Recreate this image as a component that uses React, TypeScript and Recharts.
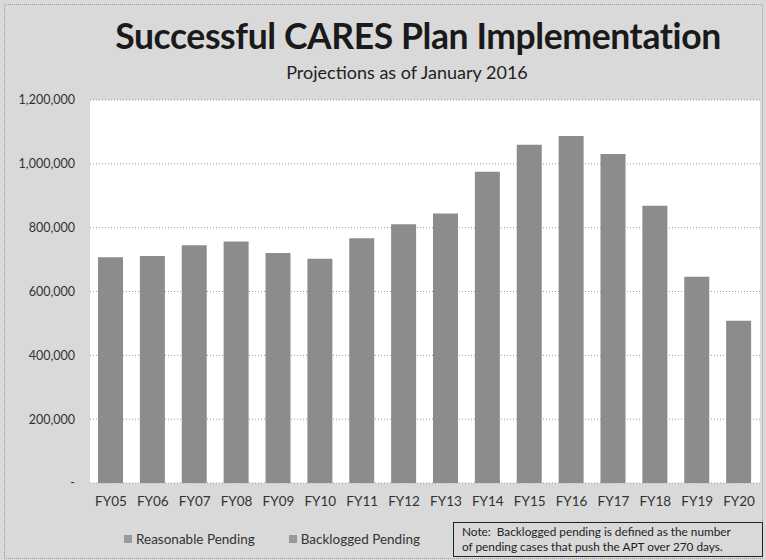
import React from "react";
import { BarChart, Bar, XAxis, YAxis, CartesianGrid, Legend } from "recharts";

const categories = ["FY05","FY06","FY07","FY08","FY09","FY10","FY11","FY12","FY13","FY14","FY15","FY16","FY17","FY18","FY19","FY20"];
const reasonablePending = [707000,711000,745000,757000,721000,703000,767000,811000,844000,975000,1060000,1087000,1031000,869000,646000,508000];
const backloggedPending = [0,0,0,0,0,0,0,0,0,0,0,0,0,0,0,0];
const yTicks = [0,200000,400000,600000,800000,1000000,1200000];
const legendOrder = ["Reasonable Pending", "Backlogged Pending"];

const data = categories.map((c, i) => ({ name: c, reasonable: reasonablePending[i], backlogged: backloggedPending[i] }));

const FONT = "Lato, 'Open Sans', sans-serif";

const fmt = (v: number) => (v === 0 ? "-" : v.toLocaleString("en-US"));

const renderLegend = (props: any) => {
  const payload = [...(props.payload || [])].sort(
    (a: any, b: any) => legendOrder.indexOf(a.value) - legendOrder.indexOf(b.value)
  );
  return (
    <div style={{ display: "flex", height: 16, fontFamily: FONT, fontSize: 13.5, color: "#333" }}>
      {payload.map((p: any, i: number) => (
        <div key={i} style={{ display: "flex", alignItems: "center", marginRight: i === 0 ? 34 : 0 }}>
          <span style={{ display: "inline-block", width: 8, height: 8, background: "#9a9a9a", marginRight: 4 }} />
          <span>{p.value}</span>
        </div>
      ))}
    </div>
  );
};

export default function App() {
  return (
    <div style={{ position: "absolute", left: 0, top: 0, width: 766, height: 560, background: "#d9d9d9", overflow: "hidden" }}>
      <div style={{ position: "absolute", left: 4, top: 4, width: 757, height: 553, border: "1px dotted #9a9a9a" }} />
      <div style={{ position: "absolute", left: 0, top: 14, width: 836, textAlign: "center", fontFamily: FONT, fontWeight: 700, fontSize: 35.5, letterSpacing: -0.4, color: "#1a1a1a" }}>
        Successful CARES Plan Implementation
      </div>
      <div style={{ position: "absolute", left: 0, top: 61, width: 814, textAlign: "center", fontFamily: FONT, fontSize: 18, color: "#222" }}>
        Projections as of January 2016
      </div>
      <div style={{ position: "absolute", left: 0, top: 0 }}>
        <BarChart width={766} height={560} data={data} margin={{ top: 100, right: 6, bottom: 41, left: 0 }}>
          <CartesianGrid vertical={false} stroke="#9a9a9a" strokeDasharray="1 2" fill="#ffffff" />
          <XAxis dataKey="name" height={20} axisLine={false} tickLine={false} tickSize={0} tickMargin={13} interval={0}
            tick={{ fontFamily: FONT, fontSize: 13.5, fill: "#333" }} />
          <YAxis width={90} domain={[0, 1200000]} ticks={yTicks} axisLine={false} tickLine={false} tickSize={0} tickMargin={15}
            tickFormatter={fmt} tick={{ fontFamily: FONT, fontSize: 12.5, fill: "#333" }} />
          <Legend verticalAlign="bottom" align="left" content={renderLegend}
            wrapperStyle={{ position: "absolute", left: 124, top: 531, width: 320, height: 16 }} />
          <Bar dataKey="reasonable" name="Reasonable Pending" stackId="a" fill="#8c8c8c" barSize={25} isAnimationActive={false} />
          <Bar dataKey="backlogged" name="Backlogged Pending" stackId="a" fill="#858585" barSize={25} isAnimationActive={false} />
        </BarChart>
      </div>
      <div style={{ position: "absolute", left: 453, top: 522, width: 300, height: 32, border: "1px solid #222", padding: "1px 0 0 8px", fontFamily: FONT, fontSize: 11.8, lineHeight: "15px", color: "#222", background: "transparent" }}>
        Note:&nbsp; Backlogged pending is defined as the number<br />of pending cases that push the APT over 270 days.
      </div>
    </div>
  );
}
